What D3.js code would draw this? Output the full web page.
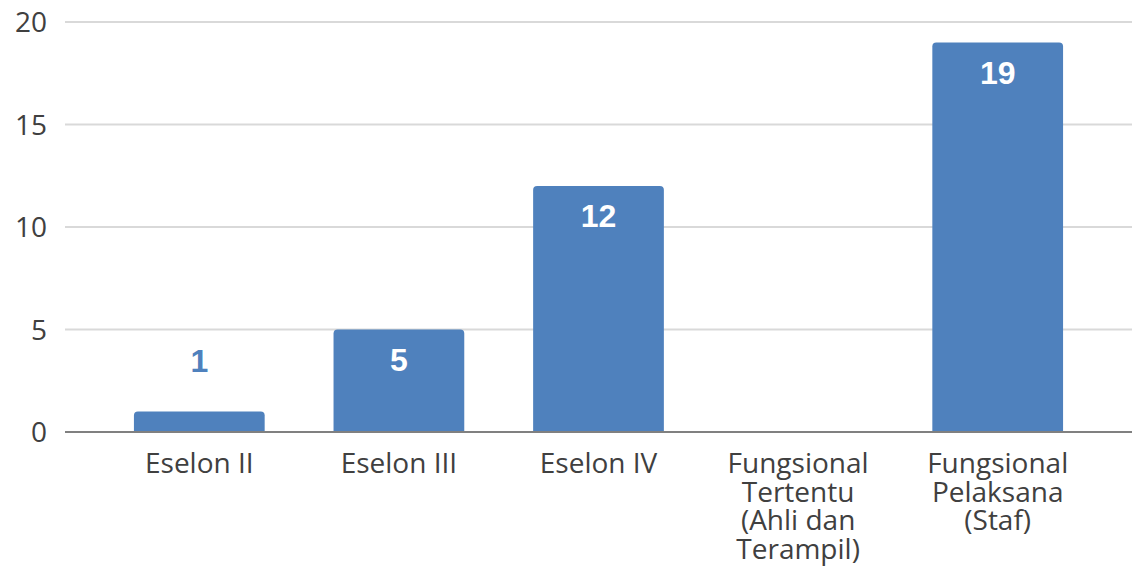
<!DOCTYPE html>
<html>
<head>
<meta charset="utf-8">
<style>
  body { margin: 0; background: #fff; }
  svg { display: block; }
</style>
</head>
<body>
<svg width="1132" height="583"></svg>
<script src="https://d3js.org/d3.v7.min.js"></script>
<script>

var categories = [
  ["Eselon II"],
  ["Eselon III"],
  ["Eselon IV"],
  ["Fungsional", "Tertentu", "(Ahli dan", "Terampil)"],
  ["Fungsional", "Pelaksana", "(Staf)"]
];
var values = [1, 5, 12, 0, 19];
var yTicks = [0, 5, 10, 15, 20];

var svg = d3.select("svg"),
    gridLeft = 65, gridRight = 1132,
    plotTop = 22, plotBottom = 432;

var x = d3.scaleBand()
    .domain(d3.range(categories.length))
    .range([100, 1097])
    .paddingInner(0.345)
    .paddingOuter(0.17);

var y = d3.scaleLinear().domain([0, 20]).range([plotBottom, plotTop]);

// gridlines + y labels
svg.append("g")
  .selectAll("line")
  .data(yTicks.filter(function(d) { return d > 0; }))
  .enter().append("line")
    .attr("x1", gridLeft).attr("x2", gridRight)
    .attr("y1", function(d) { return y(d); })
    .attr("y2", function(d) { return y(d); })
    .attr("stroke", "#d9d9d9")
    .attr("stroke-width", 2);

svg.append("g")
  .selectAll("text")
  .data(yTicks)
  .enter().append("text")
    .attr("x", 47)
    .attr("y", function(d) { return y(d); })
    .attr("dy", "0.36em")
    .attr("text-anchor", "end")
    .attr("fill", "#404040")
    .style("font", "28px 'Open Sans', sans-serif")
    .text(function(d) { return d; });

// bars (rounded top)
function barPath(d, i) {
  if (d <= 0) return null;
  var x0 = x(i), w = x.bandwidth(), y0 = y(d), y1 = y(0), r = 4;
  return "M" + x0 + "," + y1 + "V" + (y0 + r) +
    "Q" + x0 + "," + y0 + " " + (x0 + r) + "," + y0 +
    "H" + (x0 + w - r) +
    "Q" + (x0 + w) + "," + y0 + " " + (x0 + w) + "," + (y0 + r) +
    "V" + y1 + "Z";
}

svg.append("g")
  .selectAll("path")
  .data(values)
  .enter().append("path")
    .attr("d", barPath)
    .attr("fill", "#4f81bd");

// x axis line
svg.append("line")
    .attr("x1", gridLeft).attr("x2", gridRight)
    .attr("y1", y(0)).attr("y2", y(0))
    .attr("stroke", "#808080")
    .attr("stroke-width", 2);

// value labels (small bar: label sits above it)
svg.append("g")
  .selectAll("text")
  .data(values)
  .enter().append("text")
    .attr("x", function(d, i) { return x(i) + x.bandwidth() / 2; })
    .attr("y", function(d) { return d < 3 ? y(d) - 40 : y(d) + 41; })
    .attr("text-anchor", "middle")
    .attr("fill", function(d) { return d < 3 ? "#4f81bd" : "#fff"; })
    .style("font", "bold 32px 'Liberation Sans', Arial, sans-serif")
    .text(function(d) { return d > 0 ? d : ""; });

// category labels
var cat = svg.append("g")
  .selectAll("text")
  .data(categories)
  .enter().append("text")
    .attr("x", function(d, i) { return x(i) + x.bandwidth() / 2; })
    .attr("y", 473)
    .attr("text-anchor", "middle")
    .attr("fill", "#404040")
    .style("font", "28px 'Open Sans', sans-serif");

cat.selectAll("tspan")
  .data(function(d) { return d; })
  .enter().append("tspan")
    .attr("x", function() { return d3.select(this.parentNode).attr("x"); })
    .attr("dy", function(d, i) { return i ? 28.5 : 0; })
    .text(function(d) { return d; });

</script>
</body>
</html>
